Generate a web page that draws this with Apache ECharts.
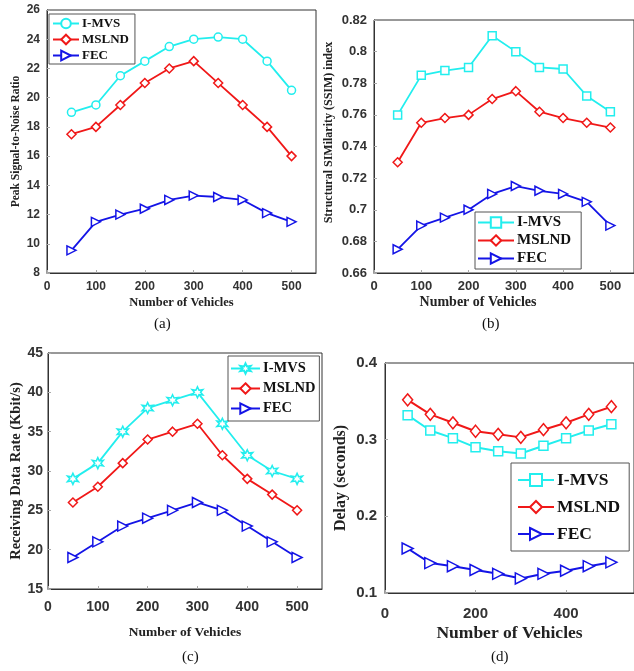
<!DOCTYPE html>
<html>
<head>
<meta charset="utf-8">
<script src="https://cdn.jsdelivr.net/npm/echarts@6/dist/echarts.min.js"></script>
<style>
html,body{margin:0;padding:0;background:#fff;}
#wrap{position:relative;width:634px;height:671px;overflow:hidden;background:#fff;}
.pane{position:absolute;left:0;top:0;width:634px;height:671px;}
</style>
</head>
<body>
<div id="wrap">
<div class="pane" id="pa"></div>
<div class="pane" id="pb"></div>
<div class="pane" id="pc"></div>
<div class="pane" id="pd"></div>
</div>
<script>
// ---- data ----
const vehicles = [50, 100, 150, 200, 250, 300, 350, 400, 450, 500];
const seriesNames = ['I-MVS', 'MSLND', 'FEC'];

const psnrIMVS  = [19, 19.5, 21.5, 22.5, 23.5, 24, 24.15, 24, 22.5, 20.5];
const psnrMSLND = [17.5, 18, 19.5, 21, 22, 22.5, 21, 19.5, 18, 16];
const psnrFEC   = [9.55, 11.5, 12, 12.4, 13, 13.3, 13.2, 13, 12.1, 11.5];

const ssimIMVS  = [0.76, 0.785, 0.788, 0.79, 0.81, 0.80, 0.79, 0.789, 0.772, 0.762];
const ssimMSLND = [0.73, 0.755, 0.758, 0.76, 0.77, 0.775, 0.762, 0.758, 0.755, 0.752];
const ssimFEC   = [0.675, 0.69, 0.695, 0.70, 0.71, 0.715, 0.712, 0.71, 0.705, 0.69];

const rateIMVS  = [29, 31, 35, 38, 39, 40, 36, 32, 30, 29];
const rateMSLND = [26, 28, 31, 34, 35, 36, 32, 29, 27, 25];
const rateFEC   = [19, 21, 23, 24, 25, 26, 25, 23, 21, 19];

const delayIMVS  = [0.332, 0.312, 0.302, 0.29, 0.285, 0.282, 0.292, 0.302, 0.312, 0.32];
const delayMSLND = [0.352, 0.333, 0.322, 0.311, 0.307, 0.303, 0.313, 0.322, 0.333, 0.343];
const delayFEC   = [0.158, 0.139, 0.135, 0.13, 0.125, 0.119, 0.125, 0.129, 0.135, 0.14];

const xTitle = 'Number of Vehicles';
const yTitles = ['Peak Signal-to-Noise Ratio', 'Structural SIMilarity (SSIM) index', 'Receiving Data Rate (Kbit/s)', 'Delay (seconds)'];
const captions = ['(a)', '(b)', '(c)', '(d)'];

// ---- styles ----
const COLORS = ['#22eeee', '#f01818', '#1414e6'];
const TRI = 'path://M0,0 L10,5 L0,10 Z';
const STAR = 'path://M5,0 L6.2,3 L9.3,2.5 L7.4,5 L9.3,7.5 L6.2,7 L5,10 L3.8,7 L0.7,7.5 L2.6,5 L0.7,2.5 L3.8,3 Z';
const SANS = 'Liberation Sans';
const SERIF = 'Liberation Serif';

function pairs(ys) { return vehicles.map((x, i) => [x, ys[i]]); }

function makeOption(p) {
  const sets = [p.d1, p.d2, p.d3];
  const symbols = [p.sym1, 'diamond', TRI];
  const series = sets.map((d, i) => ({
    name: seriesNames[i],
    type: 'line',
    data: pairs(d),
    symbol: symbols[i],
    symbolSize: p.symSizes[i],
    lineStyle: { color: COLORS[i], width: p.lw },
    itemStyle: { color: '#fff', borderColor: COLORS[i], borderWidth: 1.5 },
    emphasis: { disabled: true },
    animation: false,
    z: 3 - i
  }));
  return {
    backgroundColor: 'transparent',
    animation: false,
    grid: { left: p.g[0], top: p.g[1], width: p.g[2], height: p.g[3], show: true, borderColor: '#333', borderWidth: 1, backgroundColor: 'transparent' },
    xAxis: {
      type: 'value', min: 0, max: 550, interval: p.xInt,
      name: xTitle, nameLocation: 'middle', nameGap: p.xGap,
      nameTextStyle: { fontFamily: SERIF, fontWeight: 'bold', fontSize: p.xNameSize, color: '#222', padding: p.xNamePad || 0 },
      axisLine: { show: true, lineStyle: { color: '#333', width: 1 } },
      axisTick: { show: true, inside: true, length: 3, lineStyle: { color: '#aaa' } },
      axisLabel: { showMaxLabel: false, margin: p.xMargin, fontFamily: SANS, fontWeight: 'bold', fontSize: p.tickSize, color: '#333' },
      splitLine: { show: false }
    },
    yAxis: {
      type: 'value', min: p.yMin, max: p.yMax, interval: p.yInt,
      name: p.yTitle, nameLocation: 'middle', nameGap: p.yGap,
      nameTextStyle: { fontFamily: SERIF, fontWeight: 'bold', fontSize: p.yNameSize, color: '#222', padding: p.yNamePad || 0 },
      axisLine: { show: true, lineStyle: { color: '#333', width: 1 } },
      axisTick: { show: true, inside: true, length: 3, lineStyle: { color: '#aaa' } },
      axisLabel: { margin: p.yMargin, fontFamily: SANS, fontWeight: 'bold', fontSize: p.tickSize, color: '#333' },
      splitLine: { show: false }
    },
    legend: {
      data: seriesNames,
      orient: 'vertical',
      left: p.lg[0], top: p.lg[1],
      padding: p.lgPad,
      itemGap: p.lgGap,
      itemWidth: p.lgIconW,
      itemHeight: p.lgIconH,
      backgroundColor: '#fff',
      borderColor: '#555', borderWidth: 1,
      selectedMode: false,
      textStyle: { fontFamily: SERIF, fontWeight: 'bold', fontSize: p.lgFont, color: '#111', padding: [0, 0, 0, -2] }
    },
    graphic: [{
      type: 'text', left: p.cap[0], top: p.cap[1],
      style: { text: p.capText, font: '15px "' + SERIF + '"', fill: '#111', textAlign: 'center' }
    }],
    series: series
  };
}

const panels = [
  { id: 'pa', d1: psnrIMVS, d2: psnrMSLND, d3: psnrFEC, sym1: 'circle', symSizes: [8, 9, 9], lw: 1.8,
    g: [47, 10, 269, 263], xInt: 100, yMin: 8, yMax: 26, yInt: 2, tickSize: 12,
    xGap: 23, xNameSize: 12.5, xMargin: 8, yTitle: yTitles[0], yGap: 25, yNameSize: 11.5, yMargin: 7,
    lg: [49, 14], lgPad: [3, 6, 2, 3], lgGap: 3, lgIconW: 26, lgIconH: 12, lgFont: 13,
    cap: [154, 317], capText: captions[0] },
  { id: 'pb', d1: ssimIMVS, d2: ssimMSLND, d3: ssimFEC, sym1: 'rect', symSizes: [8, 9, 9], lw: 1.8,
    g: [374, 20, 264, 253], xInt: 100, yMin: 0.66, yMax: 0.82, yInt: 0.02, tickSize: 13,
    xGap: 22, xNameSize: 14, xNamePad: [0, 52, 0, 0], xMargin: 7, yTitle: yTitles[1], yGap: 39, yNameSize: 12, yNamePad: [0, 0, 0, 28], yMargin: 7,
    lg: [475, 212], lgPad: [3, 10, 3, 2], lgGap: 3, lgIconW: 36, lgIconH: 13, lgFont: 15,
    cap: [482, 317], capText: captions[1] },
  { id: 'pc', d1: rateIMVS, d2: rateMSLND, d3: rateFEC, sym1: STAR, symSizes: [11, 9, 10], lw: 1.8,
    g: [48, 353, 274, 236], xInt: 100, yMin: 15, yMax: 45, yInt: 5, tickSize: 14,
    xGap: 37, xNameSize: 13.5, xMargin: 11, yTitle: yTitles[2], yGap: 22, yNameSize: 14.5, yMargin: 5,
    lg: [228, 356], lgPad: [5, 4, 5, 2], lgGap: 5, lgIconW: 29, lgIconH: 13, lgFont: 14.5,
    cap: [182, 650], capText: captions[2] },
  { id: 'pd', d1: delayIMVS, d2: delayMSLND, d3: delayFEC, sym1: 'rect', symSizes: [9, [10, 12], 11], lw: 2,
    g: [385, 363, 250, 230], xInt: 200, yMin: 0.1, yMax: 0.4, yInt: 0.1, tickSize: 15,
    xGap: 31, xNameSize: 17.5, xMargin: 13, yTitle: yTitles[3], yGap: 36, yNameSize: 16, yMargin: 8,
    lg: [511, 463], lgPad: [8, 9, 8, 6], lgGap: 9, lgIconW: 36, lgIconH: 15, lgFont: 17.5,
    cap: [491, 650], capText: captions[3] }
];

panels.forEach(p => {
  const chart = echarts.init(document.getElementById(p.id), null, { renderer: 'canvas', width: 634, height: 671 });
  chart.setOption(makeOption(p));
});
</script>
</body>
</html>
